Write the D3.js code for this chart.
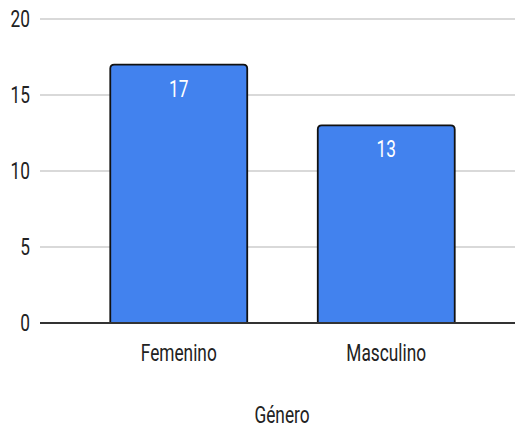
<!DOCTYPE html>
<html>
<head>
<meta charset="utf-8">
<script src="https://cdn.jsdelivr.net/npm/d3@7"></script>
<style>
  html, body { margin: 0; padding: 0; background: #fff; }
  svg text { font-family: Roboto, "Liberation Sans", Arial, sans-serif; }
</style>
</head>
<body>
<svg id="chart" width="515" height="434"></svg>
<script>
// Data
const categories = ["Femenino", "Masculino"];
const values = [17, 13];
const yTicks = [0, 5, 10, 15, 20];
const xTitle = "Género";

const svg = d3.select("#chart");
const W = 515, H = 434;
const fontSize = 24;
const squeeze = 0.72; // narrow glyphs

const y = d3.scaleLinear().domain([0, 20]).range([323, 19]);
const x = d3.scaleBand().domain(categories).range([75, 490])
  .paddingInner(0.34).paddingOuter(0.17);

// Horizontally condensed text helper
function label(g, tx, ty, text, anchor, color) {
  return g.append("text")
    .attr("transform", `translate(${tx},${ty}) scale(${squeeze},1)`)
    .attr("text-anchor", anchor)
    .attr("font-size", fontSize)
    .attr("fill", color)
    .text(text);
}

// Gridlines
const grid = svg.append("g");
grid.selectAll("line").data(yTicks.filter(d => d !== 0)).join("line")
  .attr("x1", 40).attr("x2", W)
  .attr("y1", d => y(d)).attr("y2", d => y(d))
  .attr("stroke", "#cccccc").attr("stroke-width", 1.5);

// Y tick labels
const yl = svg.append("g");
yTicks.forEach(t => label(yl, 30, y(t) + 8, String(t), "end", "#222"));

// Bars with rounded top corners
function barPath(x0, y0, w, h, r) {
  return `M${x0},${y0 + h} V${y0 + r} Q${x0},${y0} ${x0 + r},${y0} H${x0 + w - r} Q${x0 + w},${y0} ${x0 + w},${y0 + r} V${y0 + h}`;
}
const bars = svg.append("g");
categories.forEach((c, i) => {
  const x0 = x(c), w = x.bandwidth(), y0 = y(values[i]), h = y(0) - y0;
  bars.append("rect").attr("x", x0).attr("y", y0 + 2).attr("width", w).attr("height", h - 2)
    .attr("fill", "#4282ee");
  bars.append("path").attr("d", barPath(x0, y0, w, h, 4))
    .attr("fill", "#4282ee").attr("stroke", "#111").attr("stroke-width", 1.8);
  label(bars, x0 + w / 2, y0 + 32, String(values[i]), "middle", "#ffffff");
});

// Baseline
svg.append("line").attr("x1", 40).attr("x2", W)
  .attr("y1", y(0)).attr("y2", y(0))
  .attr("stroke", "#333").attr("stroke-width", 2);

// Category labels
const xl = svg.append("g");
categories.forEach(c => label(xl, x(c) + x.bandwidth() / 2, 361, c, "middle", "#222"));

// Axis title
label(svg, 282, 423, xTitle, "middle", "#222");
</script>
</body>
</html>
